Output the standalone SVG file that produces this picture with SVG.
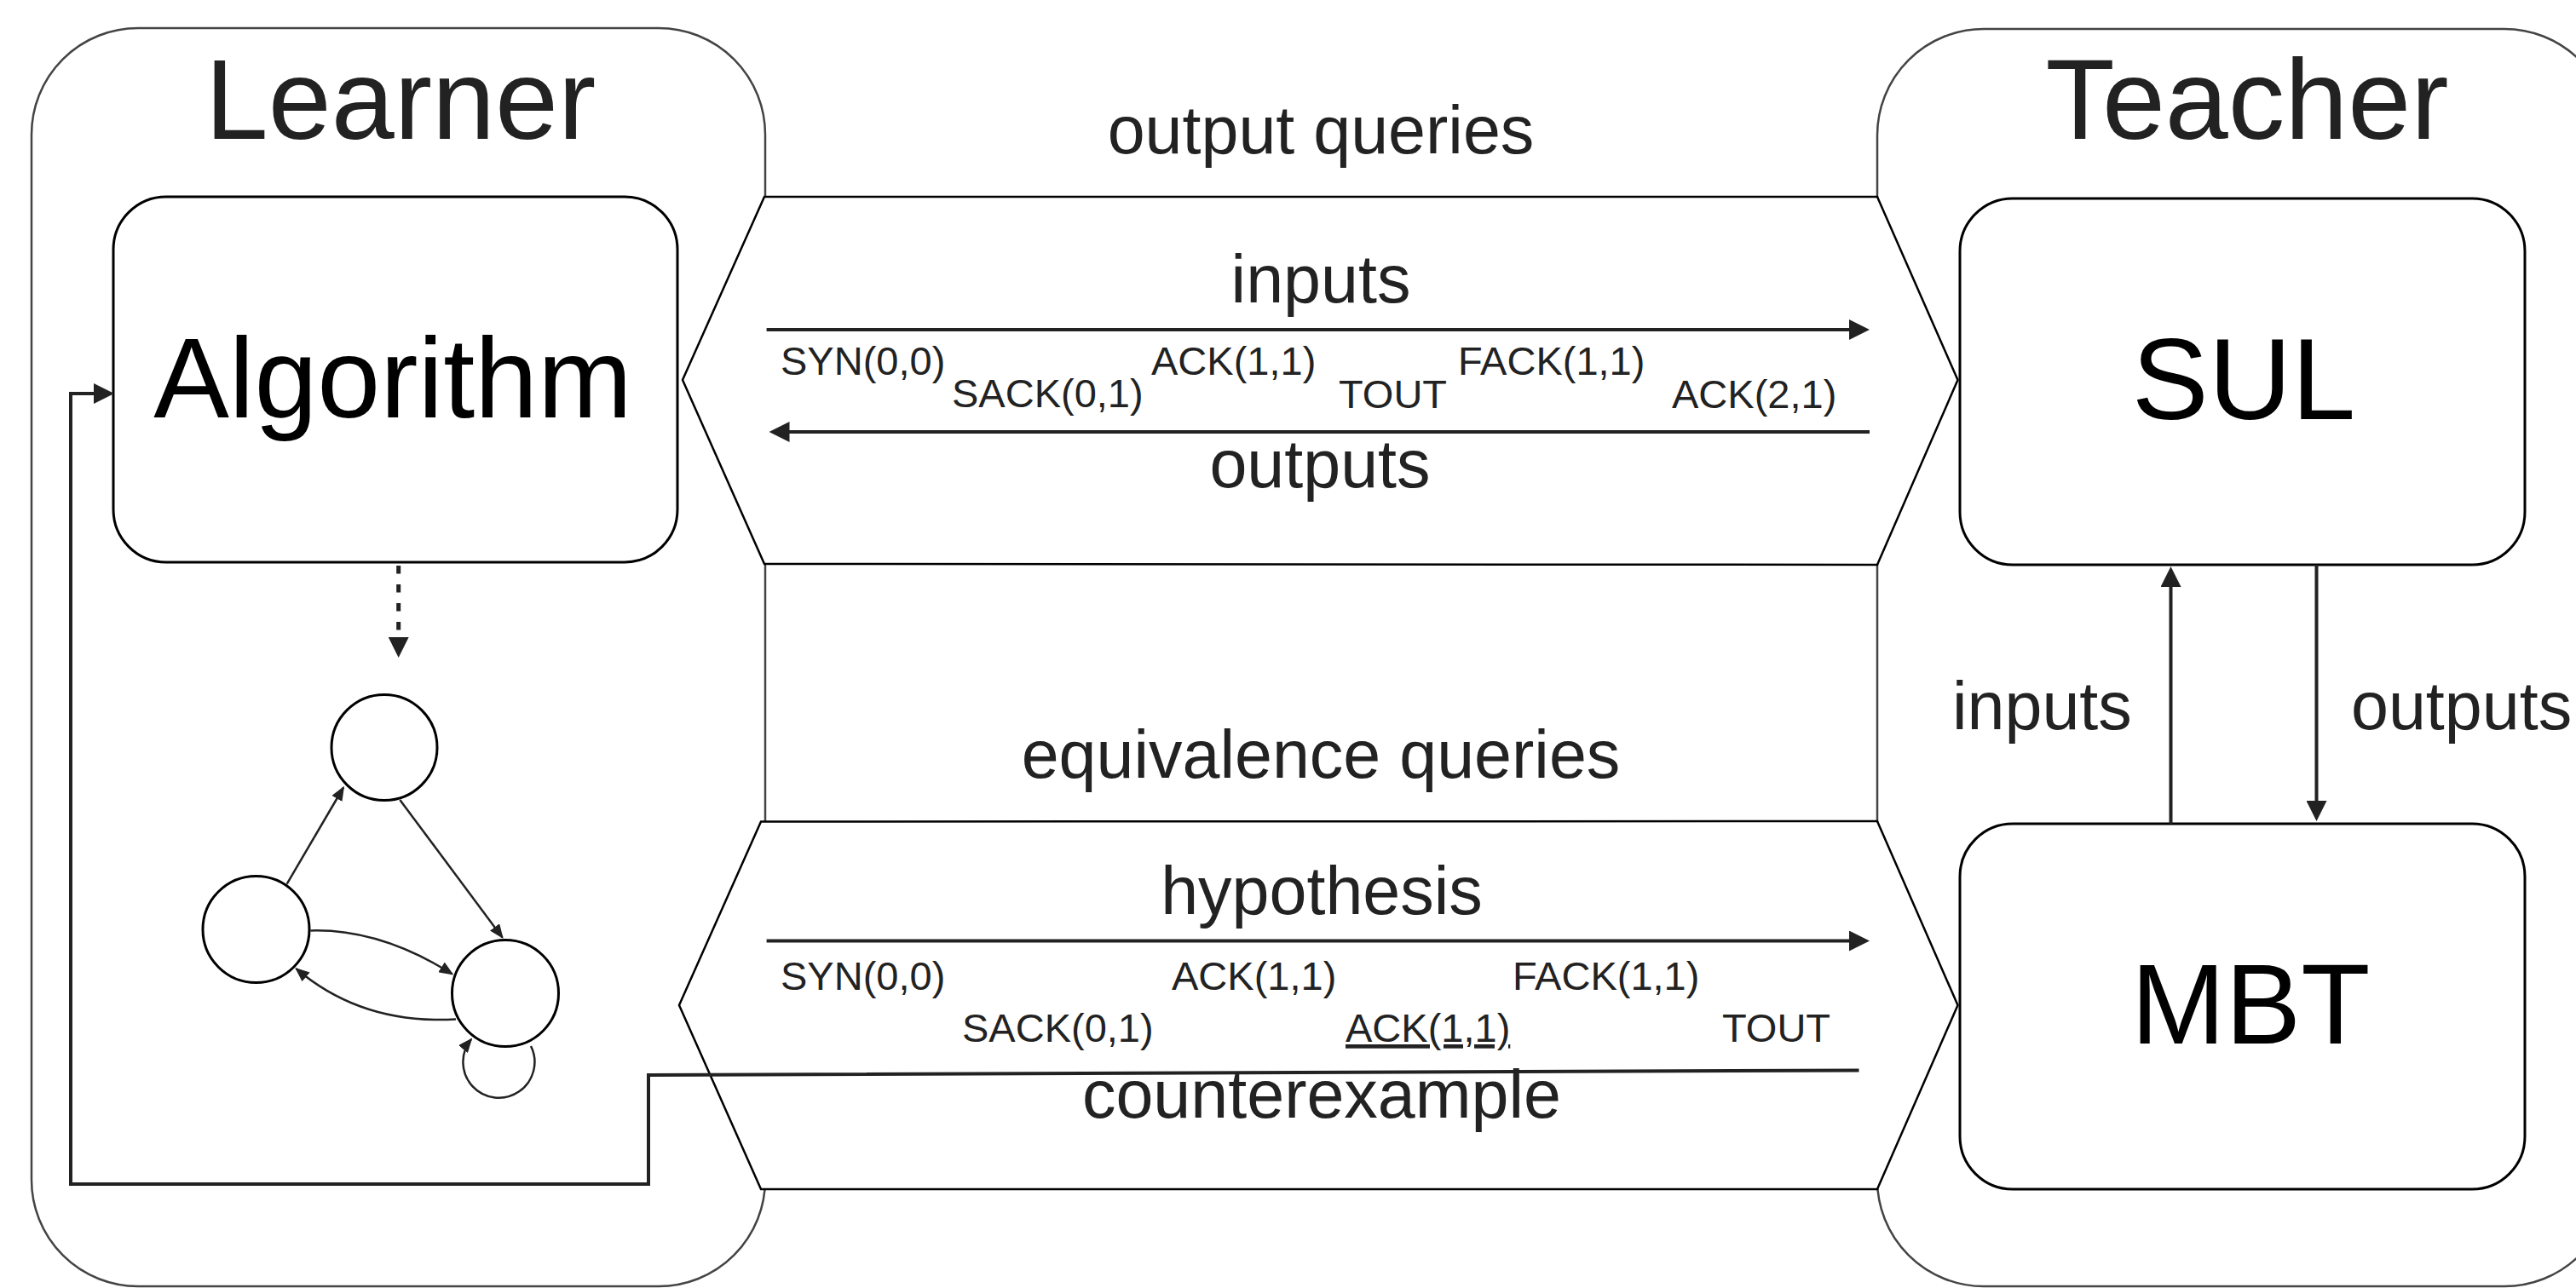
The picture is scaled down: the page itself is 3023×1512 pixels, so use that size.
<svg xmlns="http://www.w3.org/2000/svg" width="3023" height="1512" viewBox="0 0 3023 1512">
<defs>
<style>
.outer{fill:#fff;stroke:#444;stroke-width:2.5}
.hex{fill:#fff;stroke:#000;stroke-width:2.5}
.box{fill:#fff;stroke:#000;stroke-width:3}
.state{fill:#fff;stroke:#000;stroke-width:3}
.t{font-family:"Liberation Sans",Arial,sans-serif;fill:#222}
.big{font-size:133px;text-anchor:middle}
.blk{fill:#000}
.mid{font-size:79px;text-anchor:middle}
.sm{font-size:47px}
.conn{fill:none;stroke:#222;stroke-width:4}
.edge{fill:none;stroke:#222;stroke-width:2.5}
</style>
<marker id="ah" markerUnits="userSpaceOnUse" markerWidth="24" markerHeight="24" refX="14" refY="12" orient="auto"><path d="M0,0 L24,12 L0,24 Z" fill="#222"/></marker>
<marker id="sa" markerUnits="userSpaceOnUse" markerWidth="17" markerHeight="14" refX="15" refY="7" orient="auto"><path d="M0,0 L17,7 L0,14 Z" fill="#222"/></marker>
</defs>

<g id="learner">
<rect class="outer" x="37" y="33" width="861" height="1477" rx="125" ry="125"/>
<text class="t big" x="470" y="163">Learner</text>
</g>
<g id="teacher">
<rect class="outer" x="2203" y="34" width="861" height="1476" rx="125" ry="125"/>
<text class="t big" x="2637" y="163">Teacher</text>
</g>

<g id="output-queries">
<polygon class="hex" points="897,231 2203,231 2297.5,446 2203,663 897,662 801,446"/>
<text class="t mid" x="1550" y="180">output queries</text>
</g>
<g id="equivalence-queries">
<polygon class="hex" points="893,964.5 2203,964 2297.5,1180 2203,1396 893,1396 797,1180"/>
<text class="t mid" x="1550" y="913">equivalence queries</text>
</g>

<g id="algorithm">
<rect class="box" x="133" y="231" width="662" height="429" rx="62" ry="62"/>
<text class="t big blk" x="461" y="490">Algorithm</text>
</g>
<g id="sul">
<rect class="box" x="2300" y="233" width="663" height="430" rx="62" ry="62"/>
<text class="t big blk" x="2633" y="492" style="font-size:135px">SUL</text>
</g>
<g id="mbt">
<rect class="box" x="2300" y="967" width="663" height="429" rx="62" ry="62"/>
<text class="t big blk" x="2641" y="1225">MBT</text>
</g>

<g id="hypothesis-graph">
<circle id="s0" class="state" cx="451" cy="877.5" r="62"/>
<circle id="s1" class="state" cx="300.5" cy="1091" r="62.5"/>
<circle id="s2" class="state" cx="593" cy="1166" r="62.5"/>
<path class="edge" d="M336.7 1037.6 L403 924.5" marker-end="url(#sa)"/>
<path class="edge" d="M469.3 939 L589.5 1100.4" marker-end="url(#sa)"/>
<path class="edge" d="M364.3 1092.4 Q446 1090 530.7 1143.4" marker-end="url(#sa)"/>
<path class="edge" d="M535 1196.4 Q425 1203 347.7 1137.2" marker-end="url(#sa)"/>
<path class="edge" d="M623 1228 A42 42 0 1 1 553 1220" marker-end="url(#sa)"/>
</g>

<g id="labels">
<text class="t mid" x="1550" y="355">inputs</text>
<text class="t mid" x="1549" y="572">outputs</text>
<text class="t mid" x="1551" y="1073">hypothesis</text>
<text class="t mid" x="1551" y="1312">counterexample</text>
<text class="t" x="2291" y="856" style="font-size:79px">inputs</text>
<text class="t" x="2759" y="856" style="font-size:79px">outputs</text>
<text class="t sm" x="916" y="440">SYN(0,0)</text>
<text class="t sm" x="1117" y="478">SACK(0,1)</text>
<text class="t sm" x="1351" y="440">ACK(1,1)</text>
<text class="t sm" x="1571" y="479">TOUT</text>
<text class="t sm" x="1711" y="440">FACK(1,1)</text>
<text class="t sm" x="1962" y="479">ACK(2,1)</text>
<text class="t sm" x="916" y="1162">SYN(0,0)</text>
<text class="t sm" x="1129" y="1223">SACK(0,1)</text>
<text class="t sm" x="1375" y="1162">ACK(1,1)</text>
<text class="t sm" x="1579" y="1223" text-decoration="underline">ACK(1,1)</text>
<text class="t sm" x="1775" y="1162">FACK(1,1)</text>
<text class="t sm" x="2021" y="1223">TOUT</text>
</g>

<g id="connectors">
<path class="conn" d="M899.6 387 L2184 387" marker-end="url(#ah)"/>
<path class="conn" d="M2194 507 L912.5 507" marker-end="url(#ah)"/>
<path class="conn" d="M899.6 1104.5 L2184 1104.5" marker-end="url(#ah)"/>
<path class="conn" d="M2181.5 1256.5 L761 1262 L761 1390 L83 1390 L83 462 L124 462" marker-end="url(#ah)"/>
<path class="conn" d="M2547.5 967 L2547.5 675" marker-end="url(#ah)"/>
<path class="conn" d="M2718.5 663 L2718.5 954" marker-end="url(#ah)"/>
<path class="conn" d="M467.7 664 L467.7 762" style="stroke-width:5;stroke-dasharray:9.5 12.5" marker-end="url(#ah)"/>
</g>
</svg>
